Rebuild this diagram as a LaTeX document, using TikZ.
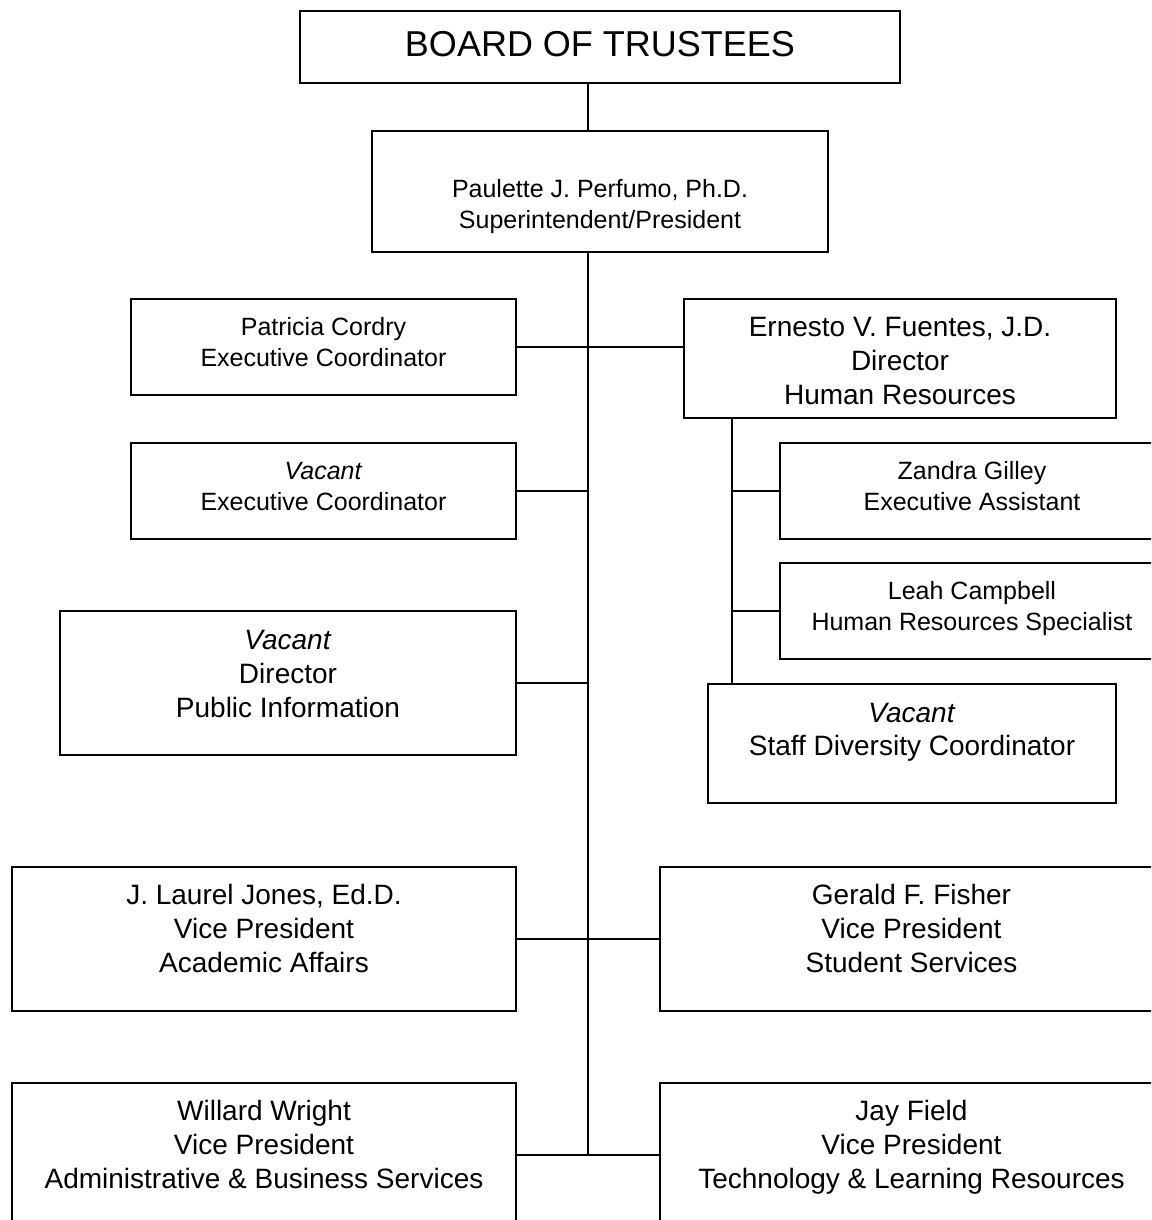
\documentclass[tikz,border=0pt]{standalone}
\usepackage{fontspec}
\setmainfont{Liberation Sans}
\usetikzlibrary{positioning}

\begin{document}
\begin{tikzpicture}[x=1pt, y=-1pt,
    box/.style={draw, line width=2.2pt, inner sep=0pt},
    small/.style={align=center, anchor=base, inner sep=0pt, font=\fontsize{25}{30.5}\selectfont},
    big/.style={align=center, anchor=base, inner sep=0pt, font=\fontsize{28}{34}\selectfont},
    link/.style={line width=2.2pt}]
    \clip (0, 0) rectangle (1151, 1220);
    \node[box, minimum width=600pt, minimum height=72pt] at (600, 47) (board) {};
    \node[box, minimum width=456pt, minimum height=121pt] at (600, 191.5) (pres) {};
    \node[box, minimum width=385pt, minimum height=96pt] at (323.5, 347) (cordry) {};
    \node[box, minimum width=432pt, minimum height=119pt] at (900, 358.5) (fuentes) {};
    \node[box, minimum width=385pt, minimum height=96pt] at (323.5, 491) (vacantec) {};
    \node[box, minimum width=384pt, minimum height=96pt] at (972, 491) (gilley) {};
    \node[box, minimum width=384pt, minimum height=96pt] at (972, 611) (campbell) {};
    \node[box, minimum width=456pt, minimum height=144pt] at (288, 683) (vacantpi) {};
    \node[box, minimum width=408pt, minimum height=119pt] at (912, 743.5) (vacantsdc) {};
    \node[box, minimum width=504pt, minimum height=144pt] at (264, 939) (jones) {};
    \node[box, minimum width=503pt, minimum height=144pt] at (911.5, 939) (fisher) {};
    \node[box, minimum width=504pt, minimum height=149pt] at (264, 1157.5) (wright) {};
    \node[box, minimum width=503pt, minimum height=149pt] at (911.5, 1157.5) (field) {};

    \node[anchor=base, inner sep=0pt, font=\fontsize{36}{43}\selectfont] at (600, 57) (boardtxt) {BOARD OF TRUSTEES};
    \node[small] at (600, 228) (prestxt) {Paulette J. Perfumo, Ph.D.\\Superintendent/President};
    \node[small] at (323.5, 366) (cordrytxt) {Patricia Cordry\\Executive Coordinator};
    \node[big] at (900, 404) (fuentestxt) {Ernesto V. Fuentes, J.D.\\Director\\Human Resources};
    \node[small] at (323.5, 510) (vacantectxt) {\textit{Vacant}\\Executive Coordinator};
    \node[small] at (972, 510) (gilleytxt) {Zandra Gilley\\Executive Assistant};
    \node[small] at (972, 630) (campbelltxt) {Leah Campbell\\Human Resources Specialist};
    \node[big] at (288, 717) (vacantpitxt) {\textit{Vacant}\\Director\\Public Information};
    \node[big, font=\fontsize{28}{32.5}\selectfont] at (912, 755) (vacantsdctxt) {\textit{Vacant}\\Staff Diversity Coordinator};
    \node[big] at (264, 972) (jonestxt) {J. Laurel Jones, Ed.D.\\Vice President\\Academic Affairs};
    \node[big] at (911.5, 972) (fishertxt) {Gerald F. Fisher\\Vice President\\Student Services};
    \node[big] at (264, 1188) (wrighttxt) {Willard Wright\\Vice President\\Administrative \& Business Services};
    \node[big] at (911.5, 1188) (fieldtxt) {Jay Field\\Vice President\\Technology \& Learning Resources};

    \coordinate (spine) at (588, 1155);
    \coordinate (hr) at (732, 684);
    \draw[link]
    (board.south -| spine) -- (pres.north -| spine)
    (pres.south -| spine) -- (spine)
    (cordry.east) -- (cordry.east -| fuentes.west)
    (vacantec.east) -- (vacantec.east -| spine)
    (vacantpi.east) -- (vacantpi.east -| spine)
    (jones.east) -- (fisher.west)
    (wright.east |- spine) -- (field.west |- spine)
    (fuentes.south -| hr) -- (hr)
    (gilley.west) -- (gilley.west -| hr)
    (campbell.west) -- (campbell.west -| hr);
\end{tikzpicture}
\end{document}
